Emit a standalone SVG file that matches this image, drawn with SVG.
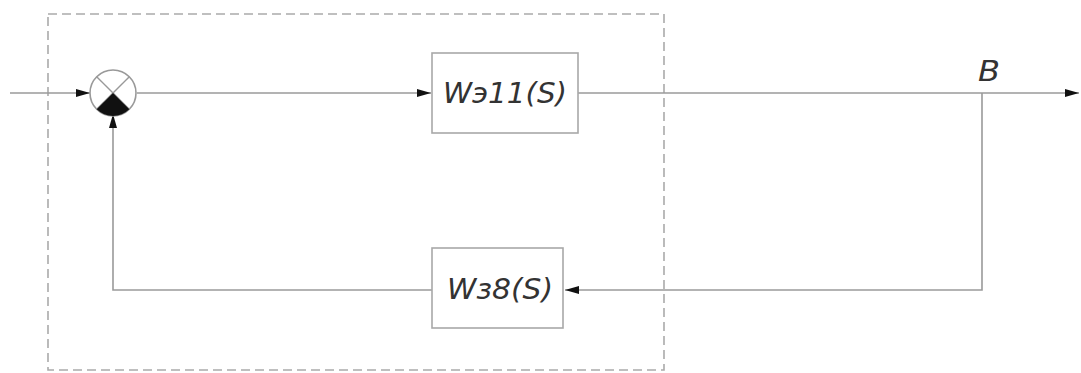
<svg xmlns="http://www.w3.org/2000/svg" width="1081" height="373" viewBox="0 0 1081 373">
<defs>
<marker id="arr" viewBox="0 0 14 10" refX="14" refY="5" markerWidth="14" markerHeight="10" markerUnits="userSpaceOnUse" orient="auto">
<path d="M0,1 L14,5 L0,9 Z" fill="#111"/>
</marker>
</defs>
<style>
.ln{fill:none;stroke:#9a9a9a;stroke-width:1.6}
.box{fill:#fff;stroke:#a8a8a8;stroke-width:1.6}
.lbl{font-family:"DejaVu Sans Condensed","DejaVu Sans",sans-serif;font-style:oblique;font-size:29px;fill:#333}
.frame{fill:none;stroke:#aaa;stroke-width:1.6;stroke-dasharray:9,5}
</style>
<rect width="1081" height="373" fill="#fff"/>
<rect class="frame" x="48" y="14" width="616" height="356"/>
<g id="connectors">
<line class="ln" x1="10" y1="93" x2="90" y2="93" marker-end="url(#arr)"/>
<line class="ln" x1="137" y1="93" x2="431" y2="93" marker-end="url(#arr)"/>
<line class="ln" x1="578" y1="93" x2="1079" y2="93" marker-end="url(#arr)"/>
<polyline class="ln" points="982,93 982,290 565,290" marker-end="url(#arr)"/>
<polyline class="ln" points="432,290 113,290 113,114" marker-end="url(#arr)"/>
</g>
<g id="sum">
<circle cx="113" cy="93" r="23" fill="#fff" stroke="#999" stroke-width="1.6"/>
<line x1="96.7" y1="76.7" x2="129.3" y2="109.3" stroke="#999" stroke-width="1.4"/>
<line x1="129.3" y1="76.7" x2="96.7" y2="109.3" stroke="#999" stroke-width="1.4"/>
<path d="M113,93 L96.7,109.3 A23,23 0 0 0 129.3,109.3 Z" fill="#111"/>
</g>
<g id="w311">
<rect class="box" x="432" y="53" width="146" height="80"/>
<text class="lbl" x="443" y="103" textLength="124" lengthAdjust="spacingAndGlyphs">Wэ11(S)</text>
</g>
<g id="w38">
<rect class="box" x="432" y="248" width="131" height="80"/>
<text class="lbl" x="447" y="299" textLength="106" lengthAdjust="spacingAndGlyphs">Wз8(S)</text>
</g>
<g id="labelB">
<text class="lbl" x="978" y="81" textLength="22" lengthAdjust="spacingAndGlyphs">B</text>
</g>
</svg>
